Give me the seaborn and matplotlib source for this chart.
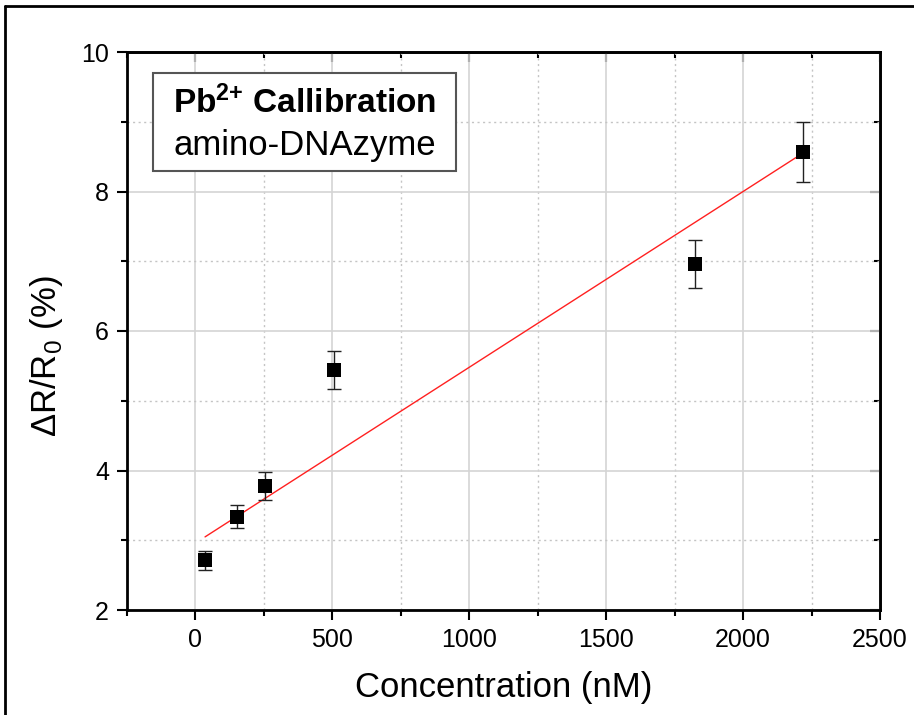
import numpy as np
import pandas as pd
import matplotlib
matplotlib.use("Agg")
import matplotlib.pyplot as plt
from matplotlib.ticker import MultipleLocator
from matplotlib.lines import Line2D
import seaborn as sns

# ---- data ----
conc = [35, 150, 255, 505, 1825, 2220]          # nM
response = [2.71, 3.34, 3.78, 5.44, 6.96, 8.56]  # dR/R0 (%)
err = [0.14, 0.17, 0.20, 0.27, 0.35, 0.43]
fit_intercept = 2.96
fit_slope = 0.00252
x_ticks = [0, 500, 1000, 1500, 2000, 2500]
y_ticks = [2, 4, 6, 8, 10]

sns.set_theme(style="white")
plt.rcParams['font.family'] = ['Liberation Sans', 'DejaVu Sans']
plt.rcParams['mathtext.fontset'] = 'custom'
plt.rcParams['mathtext.rm'] = 'Liberation Sans'
plt.rcParams['mathtext.bf'] = 'Liberation Sans:bold'
plt.rcParams['text.color'] = 'black'
plt.rcParams['axes.labelcolor'] = 'black'
plt.rcParams['xtick.color'] = 'black'
plt.rcParams['ytick.color'] = 'black'

df = pd.DataFrame({"conc": conc, "resp": response, "err": err})
fit_x = np.array([conc[0], conc[-1]])
fit_df = pd.DataFrame({"conc": fit_x, "resp": fit_intercept + fit_slope * fit_x})

fig = plt.figure(figsize=(9.14, 7.15), dpi=100)
ax = fig.add_axes([127/914, 1 - 610/715, (880-127)/914, (610-52)/715])

ax.set_xlim(-250, 2500)
ax.set_ylim(2, 10)
ax.xaxis.set_major_locator(MultipleLocator(500))
ax.xaxis.set_minor_locator(MultipleLocator(250))
ax.yaxis.set_major_locator(MultipleLocator(2))
ax.yaxis.set_minor_locator(MultipleLocator(1))
ax.grid(which='major', color='#d4d4d4', linestyle='-', linewidth=1.2)
ax.grid(which='minor', color='#c4c4c4', linestyle=(0, (1.5, 2.5)), linewidth=1)
ax.set_axisbelow(True)

sns.lineplot(data=fit_df, x="conc", y="resp", color='#ff2020', linewidth=1.0, ax=ax, zorder=3)
ax.errorbar(df["conc"], df["resp"], yerr=df["err"], fmt='none', ecolor='#222222',
            elinewidth=1.0, capsize=5, capthick=1.0, zorder=4)
sns.scatterplot(data=df, x="conc", y="resp", marker='s', s=110, color='black',
                edgecolor='black', linewidth=0, ax=ax, zorder=5)

ax.set_xticks(x_ticks)
ax.set_yticks(y_ticks)
ax.set_xticklabels([str(t) for t in x_ticks])
ax.set_yticklabels([str(t) for t in y_ticks])
ax.tick_params(axis='both', which='major', direction='out', length=7, width=1.5,
               labelsize=18, color='black', labelcolor='black', pad=6, bottom=True, left=True)
ax.tick_params(axis='both', which='minor', direction='out', length=4, width=1.5,
               color='black', bottom=True, left=True)
for s in ax.spines.values():
    s.set_linewidth(2)
    s.set_color('black')

# inward ticks on top and right
secx = ax.secondary_xaxis('top')
secx.xaxis.set_major_locator(MultipleLocator(500))
secx.xaxis.set_minor_locator(MultipleLocator(250))
secx.tick_params(which='major', direction='in', length=7, width=1.5, labeltop=False)
secx.tick_params(which='minor', direction='in', length=4, width=1.5)
secx.spines['top'].set_linewidth(2)
secy = ax.secondary_yaxis('right')
secy.yaxis.set_major_locator(MultipleLocator(2))
secy.yaxis.set_minor_locator(MultipleLocator(1))
secy.tick_params(which='major', direction='in', length=7, width=1.5, labelright=False)
secy.tick_params(which='minor', direction='in', length=4, width=1.5)
secy.spines['right'].set_linewidth(2)

ax.set_xlabel("Concentration (nM)", fontsize=25, labelpad=14)
ax.set_ylabel("ΔR/R$_0$ (%)", fontsize=25)
ax.yaxis.set_label_coords(-0.083, 0.455)

# annotation box
bx0, by0, bx1, by1 = 153/914, 1 - 171/715, 456/914, 1 - 73/715
fig.patches.append(plt.Rectangle((bx0, by0), bx1 - bx0, by1 - by0, transform=fig.transFigure,
                                 facecolor='white', edgecolor='#555555', linewidth=1.5, zorder=10))
cx = (bx0 + bx1) / 2
fig.text(cx, 1 - 103/715, r"$\mathbf{Pb^{2{+}}}$ Callibration", ha='center', va='center',
         fontsize=24, fontweight='bold', zorder=11)
fig.text(cx, 1 - 146/715, "amino-DNAzyme", ha='center', va='center', fontsize=25, zorder=11)

# outer frame (left and top edges visible)
fig.add_artist(Line2D([5/914, 5/914], [0, 1 - 6/715], transform=fig.transFigure, color='black', linewidth=2))
fig.add_artist(Line2D([5/914, 1], [1 - 6/715, 1 - 6/715], transform=fig.transFigure, color='black', linewidth=2))

fig.savefig("out.png", dpi=100)
